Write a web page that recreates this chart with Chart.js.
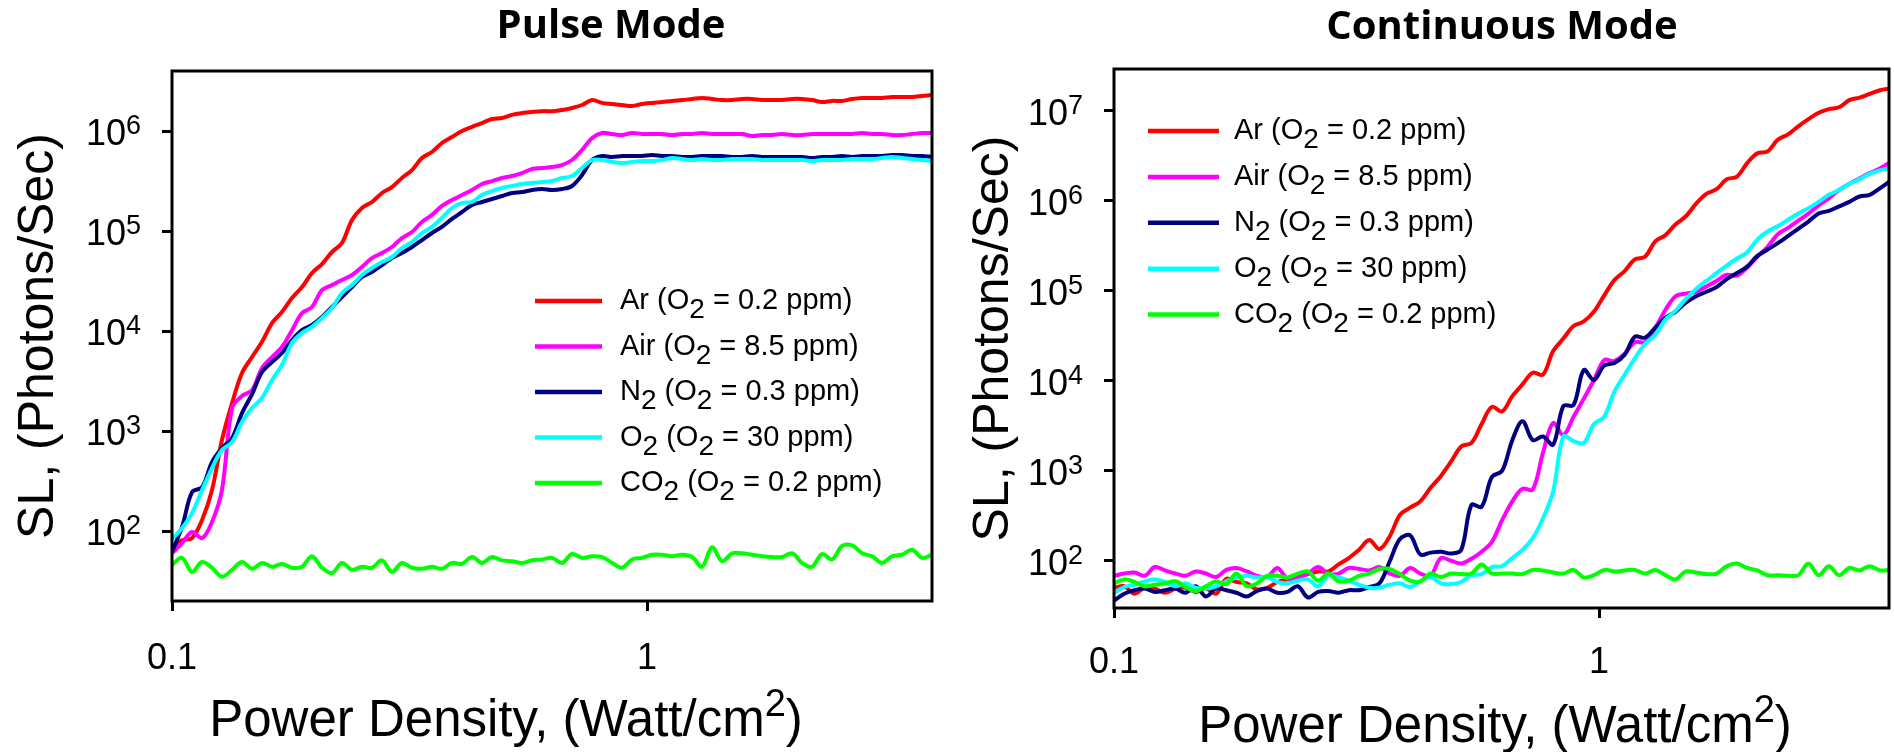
<!DOCTYPE html>
<html>
<head>
<meta charset="utf-8">
<title>SL vs power density</title>
<script src="https://cdn.jsdelivr.net/npm/chart.js@4.4.1/dist/chart.umd.min.js"></script>
<style>
  html, body { margin: 0; padding: 0; background: #fff; }
  #wrap { position: relative; width: 1894px; height: 752px; overflow: hidden; background: #fff; }
  .panel { position: absolute; top: 0; width: 947px; height: 752px; }
</style>
</head>
<body>
<div id="wrap">
  <div class="panel" style="left:0"><canvas id="pulseChart" width="947" height="752"></canvas></div>
  <div class="panel" style="left:947px"><canvas id="contChart" width="947" height="752"></canvas></div>
</div>
<script>
const powerDensity = [
  0.1, 0.105, 0.1102, 0.1157, 0.1214, 0.1274, 0.1338, 0.1404, 0.1474, 0.1547,
  0.1624, 0.1704, 0.1789, 0.1878, 0.1971, 0.2069, 0.2172, 0.2279, 0.2393, 0.2511,
  0.2636, 0.2767, 0.2904, 0.3048, 0.32, 0.3359, 0.3526, 0.3701, 0.3885, 0.4078,
  0.4281, 0.4494, 0.4717, 0.4952, 0.5198, 0.5456, 0.5727, 0.6012, 0.6311, 0.6624,
  0.6952, 0.7298, 0.7661, 0.8041, 0.8441, 0.8859, 0.93, 0.9762, 1.0247, 1.0756,
  1.129, 1.185, 1.2439, 1.3057, 1.3706, 1.4385, 1.51, 1.585, 1.6638, 1.7465,
  1.833, 1.924, 2.0197, 2.12, 2.2254, 2.3357, 2.452, 2.5738, 2.7017, 2.8358,
  2.9764, 3.1244, 3.2795, 3.4425, 3.6134, 3.7926, 3.9813
];

// legend labels: _2 = subscript
const seriesLabels = ['Ar (O_2 = 0.2 ppm)', 'Air (O_2 = 8.5 ppm)', 'N_2 (O_2 = 0.3 ppm)', 'O_2 (O_2 = 30 ppm)', 'CO_2 (O_2 = 0.2 ppm)'];
const seriesColors = ['#ff0000', '#ff00ff', '#000080', '#00ffff', '#00ff00'];

// Pulse mode, SL (photons/sec)
const pulseAr = [
  69, 81, 85, 129, 257, 813, 1.9e3, 3.8e3, 5.5e3, 7.8e3,
  1.2e4, 1.55e4, 2.14e4, 2.75e4, 3.8e4, 4.68e4, 6.17e4, 7.59e4, 1.29e5, 1.7e5,
  1.95e5, 2.4e5, 2.75e5, 3.39e5, 4.07e5, 5.37e5, 6.17e5, 7.59e5, 8.71e5, 1.0e6,
  1.1e6, 1.2e6, 1.32e6, 1.35e6, 1.45e6, 1.51e6, 1.55e6, 1.58e6, 1.58e6, 1.62e6,
  1.7e6, 1.82e6, 2.04e6, 1.91e6, 1.86e6, 1.82e6, 1.78e6, 1.86e6, 1.91e6, 1.95e6,
  2.0e6, 2.04e6, 2.09e6, 2.14e6, 2.09e6, 2.04e6, 2.04e6, 2.09e6, 2.09e6, 2.04e6,
  2.04e6, 2.04e6, 2.09e6, 2.09e6, 2.04e6, 1.95e6, 2.0e6, 2.0e6, 2.09e6, 2.14e6,
  2.14e6, 2.14e6, 2.19e6, 2.19e6, 2.19e6, 2.24e6, 2.29e6
];
const pulseAir = [
  60, 76, 98, 85, 123, 257, 1.7e3, 2.24e3, 2.57e3, 4.27e3,
  5.5e3, 6.92e3, 1.02e4, 1.51e4, 1.74e4, 2.57e4, 2.88e4, 3.24e4, 3.63e4, 4.37e4,
  5.37e4, 6.03e4, 6.92e4, 8.51e4, 9.77e4, 1.23e5, 1.45e5, 1.78e5, 2.04e5, 2.29e5,
  2.57e5, 2.95e5, 3.16e5, 3.39e5, 3.55e5, 3.8e5, 4.17e5, 4.27e5, 4.37e5, 4.57e5,
  5.13e5, 6.46e5, 8.51e5, 9.55e5, 9.33e5, 9.12e5, 9.55e5, 9.33e5, 9.33e5, 9.33e5,
  9.12e5, 9.33e5, 9.33e5, 9.55e5, 9.33e5, 9.33e5, 9.33e5, 9.33e5, 8.91e5, 9.12e5,
  9.12e5, 9.33e5, 9.12e5, 9.12e5, 9.33e5, 9.33e5, 9.33e5, 9.33e5, 9.33e5, 9.55e5,
  9.33e5, 9.33e5, 9.12e5, 9.12e5, 9.33e5, 9.55e5, 9.55e5
];
const pulseN2 = [
  62, 110, 245, 275, 490, 676, 851, 1.51e3, 2.34e3, 3.89e3,
  4.9e3, 6.03e3, 8.13e3, 1.02e4, 1.15e4, 1.38e4, 1.74e4, 2.19e4, 2.75e4, 3.47e4,
  3.89e4, 4.57e4, 5.37e4, 6.03e4, 6.92e4, 8.13e4, 9.55e4, 1.1e5, 1.32e5, 1.55e5,
  1.82e5, 1.95e5, 2.09e5, 2.24e5, 2.4e5, 2.45e5, 2.57e5, 2.63e5, 2.57e5, 2.63e5,
  2.82e5, 3.63e5, 5.13e5, 5.62e5, 5.5e5, 5.62e5, 5.62e5, 5.62e5, 5.75e5, 5.62e5,
  5.62e5, 5.5e5, 5.5e5, 5.62e5, 5.62e5, 5.62e5, 5.5e5, 5.5e5, 5.62e5, 5.5e5,
  5.5e5, 5.5e5, 5.5e5, 5.5e5, 5.37e5, 5.5e5, 5.5e5, 5.62e5, 5.5e5, 5.62e5,
  5.62e5, 5.62e5, 5.75e5, 5.75e5, 5.62e5, 5.62e5, 5.5e5
];
const pulseO2 = [
  83, 107, 151, 257, 427, 646, 776, 1.23e3, 1.7e3, 2.14e3,
  3.24e3, 4.57e3, 7.59e3, 9.55e3, 1.1e4, 1.35e4, 1.7e4, 2.4e4, 2.88e4, 3.63e4,
  4.27e4, 4.9e4, 5.5e4, 6.76e4, 7.76e4, 9.55e4, 1.1e5, 1.35e5, 1.7e5, 1.91e5,
  1.95e5, 2.29e5, 2.51e5, 2.69e5, 2.82e5, 2.95e5, 3.02e5, 3.09e5, 3.16e5, 3.39e5,
  3.55e5, 4.27e5, 5.13e5, 5.13e5, 4.9e5, 4.79e5, 4.9e5, 5.01e5, 5.01e5, 5.13e5,
  5.37e5, 5.25e5, 5.13e5, 5.25e5, 5.13e5, 5.13e5, 5.25e5, 5.25e5, 5.25e5, 5.13e5,
  5.13e5, 5.13e5, 5.13e5, 5.13e5, 5.01e5, 5.13e5, 5.13e5, 5.13e5, 5.25e5, 5.25e5,
  5.25e5, 5.37e5, 5.5e5, 5.37e5, 5.25e5, 5.13e5, 5.01e5
];
const pulseCO2 = [
  46, 54, 39, 49, 43, 35, 41, 49, 42, 48,
  44, 47, 43, 44, 56, 43, 38, 48, 41, 44,
  43, 51, 39, 48, 43, 42, 44, 42, 48, 47,
  55, 48, 55, 51, 50, 48, 51, 52, 54, 48,
  59, 54, 56, 55, 48, 43, 52, 54, 58, 58,
  56, 58, 55, 44, 69, 50, 60, 60, 58, 56,
  55, 55, 60, 48, 44, 59, 52, 71, 72, 60,
  56, 48, 56, 58, 65, 54, 58
];

// Continuous mode, SL (photons/sec)
const contAr = [
  50, 52, 43, 50, 49, 44, 49, 50, 45, 49,
  43, 63, 58, 56, 48, 50, 58, 62, 65, 71,
  76, 76, 91, 107, 132, 170, 135, 186, 324, 389,
  457, 646, 871, 1.26e3, 1.86e3, 2.04e3, 3.31e3, 5.13e3, 4.57e3, 6.76e3,
  9.12e3, 1.23e4, 1.17e4, 2.14e4, 2.95e4, 4.07e4, 4.57e4, 5.89e4, 8.91e4, 1.32e5,
  1.66e5, 2.24e5, 2.4e5, 3.55e5, 4.17e5, 5.5e5, 6.76e5, 9.33e5, 1.2e6, 1.35e6,
  1.74e6, 1.86e6, 2.63e6, 3.39e6, 3.55e6, 4.79e6, 5.5e6, 6.76e6, 8.13e6, 9.55e6,
  1.05e7, 1.1e7, 1.32e7, 1.41e7, 1.55e7, 1.7e7, 1.78e7
];
const contAir = [
  68, 72, 74, 68, 85, 78, 72, 68, 76, 72,
  66, 79, 83, 76, 68, 66, 83, 63, 65, 72,
  85, 71, 72, 83, 81, 78, 85, 72, 68, 83,
  72, 68, 107, 100, 93, 105, 126, 162, 282, 457,
  631, 617, 1.58e3, 3.39e3, 2.51e3, 3.98e3, 6.31e3, 1.02e4, 1.7e4, 1.66e4,
  2.0e4, 2.69e4, 2.69e4, 3.89e4, 6.17e4, 8.71e4, 9.33e4, 9.77e4, 1.12e5, 1.29e5,
  1.51e5, 1.48e5, 1.82e5, 2.4e5, 3.09e5, 4.27e5, 5.01e5, 6.03e5, 7.24e5, 8.91e5,
  1.07e6, 1.32e6, 1.55e6, 1.78e6, 2.04e6, 2.29e6, 2.69e6
];
const contN2 = [
  36, 43, 47, 49, 45, 47, 49, 44, 52, 40,
  49, 47, 44, 40, 46, 49, 44, 45, 52, 39,
  45, 46, 44, 47, 47, 51, 56, 98, 174, 191,
  117, 123, 126, 120, 132, 417, 398, 851, 1.0e3, 2.19e3,
  3.55e3, 2.19e3, 2.4e3, 1.95e3, 5.25e3, 5.37e3, 1.32e4, 1.02e4, 1.48e4, 1.58e4,
  1.95e4, 3.09e4, 3.02e4, 3.89e4, 5.01e4, 5.89e4, 7.41e4, 8.71e4, 9.77e4, 1.1e5,
  1.35e5, 1.58e5, 1.86e5, 2.45e5, 2.88e5, 3.39e5, 4.07e5, 4.9e5, 5.89e5, 7.24e5,
  7.76e5, 8.71e5, 9.77e5, 1.12e6, 1.17e6, 1.38e6, 1.66e6
];
const contO2 = [
  44, 51, 54, 59, 62, 58, 52, 56, 50, 49,
  52, 59, 65, 68, 65, 66, 58, 56, 60, 62,
  52, 68, 65, 60, 54, 50, 50, 54, 56, 51,
  59, 66, 56, 55, 58, 69, 71, 85, 87, 107,
  132, 178, 295, 589, 2.4e3, 2.14e3, 2.04e3, 3.31e3, 3.98e3, 7.59e3,
  1.17e4, 1.78e4, 2.57e4, 3.24e4, 4.79e4, 6.03e4, 8.13e4, 1.05e5, 1.29e5, 1.58e5,
  1.91e5, 2.29e5, 2.69e5, 3.72e5, 4.57e5, 5.25e5, 6.17e5, 7.24e5, 8.32e5, 9.77e5,
  1.17e6, 1.32e6, 1.55e6, 1.74e6, 2.0e6, 2.19e6, 2.29e6
];
const contCO2 = [
  56, 62, 58, 52, 54, 56, 59, 51, 46, 52,
  59, 55, 72, 52, 56, 68, 68, 65, 72, 76,
  60, 72, 59, 60, 68, 72, 81, 81, 71, 60,
  59, 72, 66, 72, 71, 72, 91, 72, 72, 72,
  71, 79, 78, 74, 72, 79, 65, 69, 79, 76,
  78, 79, 72, 79, 69, 62, 76, 74, 71, 72,
  87, 93, 83, 78, 69, 69, 68, 69, 93, 69,
  87, 69, 83, 78, 87, 78, 79
];

// Axis ticks and their labels (^n = superscript)
const xTicks = [0.1, 1];
const xTickLabels = ['0.1', '1'];
const pulseYTicks = [1e2, 1e3, 1e4, 1e5, 1e6];
const pulseYLabels = ['10^2', '10^3', '10^4', '10^5', '10^6'];
const contYTicks = [1e2, 1e3, 1e4, 1e5, 1e6, 1e7];
const contYLabels = ['10^2', '10^3', '10^4', '10^5', '10^6', '10^7'];

const FONT = "'Liberation Sans', Arial, sans-serif";

// split "CO_2 (O_2 ...)" into runs of normal / sub / sup text
function parseRich(str) {
    const runs = [];
    const re = /([_^])(\d)/g;
    let last = 0, m;
    while ((m = re.exec(str)) !== null) {
        if (m.index > last) runs.push({ t: str.slice(last, m.index), k: 'n' });
        runs.push({ t: m[2], k: m[1] === '_' ? 'sub' : 'sup' });
        last = re.lastIndex;
    }
    if (last < str.length) runs.push({ t: str.slice(last), k: 'n' });
    return runs;
}

function drawRich(ctx, str, x, y, o) {
    const runs = parseRich(str);
    ctx.textAlign = 'left';
    ctx.textBaseline = 'alphabetic';
    let total = 0;
    runs.forEach(r => {
        ctx.font = (r.k === 'n' ? o.size : o.small) + 'px ' + FONT;
        r.w = ctx.measureText(r.t).width;
        total += r.w;
    });
    let cx = o.align === 'center' ? x - total / 2 : o.align === 'right' ? x - total : x;
    runs.forEach(r => {
        ctx.font = (r.k === 'n' ? o.size : o.small) + 'px ' + FONT;
        let dy = 0;
        if (r.k === 'sub') dy = o.subDy || 0;
        if (r.k === 'sup') dy = -(o.supDy || 0);
        ctx.fillText(r.t, cx, y + dy);
        cx += r.w;
    });
}

// frame, titles, tick labels and legend
const panelDecor = {
    id: 'panelDecor',
    afterDraw(chart, args, opts) {
        const ctx = chart.ctx;
        const area = chart.chartArea;
        const xs = chart.scales.x;
        const ys = chart.scales.y;
        ctx.save();
        ctx.fillStyle = '#000';
        ctx.strokeStyle = '#000';

        // plot frame
        ctx.lineWidth = 3;
        ctx.strokeRect(area.left, area.top, area.right - area.left, area.bottom - area.top);

        // panel title
        ctx.font = "bold 40px 'Open Sans', sans-serif";
        ctx.textAlign = 'center';
        ctx.textBaseline = 'alphabetic';
        ctx.fillText(opts.title, opts.titleX, opts.titleY);

        // y tick labels
        opts.yTicks.forEach((v, i) => {
            const py = ys.getPixelForValue(v);
            drawRich(ctx, opts.yLabels[i], area.left - 31, py + 14, { size: 36, small: 27, supDy: 11, align: 'right' });
        });
        // x tick labels
        xTicks.forEach((v, i) => {
            const px = xs.getPixelForValue(v);
            drawRich(ctx, xTickLabels[i], px, opts.xTickY, { size: 36, small: 27, align: 'center' });
        });

        // axis titles
        drawRich(ctx, 'Power Density, (Watt/cm^2)', opts.xTitleX, opts.xTitleY, { size: 51, small: 38, supDy: 20, align: 'center' });
        ctx.save();
        ctx.translate(opts.yTitleX, (area.top + area.bottom) / 2);
        ctx.rotate(-Math.PI / 2);
        drawRich(ctx, 'SL, (Photons/Sec)', 0, 0, { size: 50, small: 36, align: 'center' });
        ctx.restore();

        // legend
        chart.data.datasets.forEach((ds, i) => {
            const y = opts.legendY + i * opts.legendStep;
            ctx.strokeStyle = ds.borderColor;
            ctx.lineWidth = 4.5;
            ctx.beginPath();
            ctx.moveTo(opts.legendX0, y);
            ctx.lineTo(opts.legendX1, y);
            ctx.stroke();
            ctx.fillStyle = '#000';
            drawRich(ctx, ds.label, opts.legendTextX, y + 8, { size: 29, small: 28, subDy: 9, align: 'left' });
        });
        ctx.restore();
    }
};

function makeDatasets(seriesList) {
    return seriesList.map((values, i) => ({
        label: seriesLabels[i],
        data: powerDensity.map((x, j) => ({ x: x, y: values[j] })),
        borderColor: seriesColors[i],
        backgroundColor: seriesColors[i],
        borderWidth: 4,
        pointRadius: 0,
        tension: 0.35,
        fill: false,
        order: 5 - i
    }));
}

function makeChart(canvasId, seriesList, cfg) {
    const ctx = document.getElementById(canvasId).getContext('2d');
    return new Chart(ctx, {
        type: 'line',
        data: { datasets: makeDatasets(seriesList) },
        options: {
            responsive: false,
            animation: false,
            events: [],
            layout: { padding: { left: 0, right: cfg.padRight, top: cfg.padTop, bottom: 0 } },
            plugins: {
                legend: { display: false },
                tooltip: { enabled: false },
                title: { display: false },
                panelDecor: cfg.decor
            },
            scales: {
                x: {
                    type: 'logarithmic',
                    min: 0.1,
                    max: cfg.xMax,
                    afterBuildTicks: scale => { scale.ticks = xTicks.map(v => ({ value: v })); },
                    afterFit: scale => { scale.height = cfg.xAxisHeight; },
                    ticks: { display: false },
                    grid: { display: true, drawOnChartArea: false, drawTicks: true, tickLength: 10, tickWidth: 3, color: '#000' },
                    border: { display: false }
                },
                y: {
                    type: 'logarithmic',
                    min: cfg.yMin,
                    max: cfg.yMax,
                    afterBuildTicks: scale => { scale.ticks = cfg.decor.yTicks.map(v => ({ value: v })); },
                    afterFit: scale => { scale.width = cfg.yAxisWidth; },
                    ticks: { display: false },
                    grid: { display: true, drawOnChartArea: false, drawTicks: true, tickLength: 10, tickWidth: 3, color: '#000' },
                    border: { display: false }
                }
            }
        },
        plugins: [panelDecor]
    });
}

// Pulse mode panel
makeChart('pulseChart', [pulseAr, pulseAir, pulseN2, pulseO2, pulseCO2], {
    padRight: 15, padTop: 71, xAxisHeight: 151, yAxisWidth: 172,
    xMax: 3.98, yMin: 20, yMax: 3.98e6,
    decor: {
        title: 'Pulse Mode', titleX: 611, titleY: 38,
        yTicks: pulseYTicks, yLabels: pulseYLabels,
        xTickY: 669, xTitleX: 506, xTitleY: 736, yTitleX: 53,
        legendX0: 535, legendX1: 602, legendTextX: 620, legendY: 301, legendStep: 45.5
    }
});

// Continuous mode panel
makeChart('contChart', [contAr, contAir, contN2, contO2, contCO2], {
    padRight: 5, padTop: 69, xAxisHeight: 144, yAxisWidth: 167,
    xMax: 3.96, yMin: 29.8, yMax: 2.93e7,
    decor: {
        title: 'Continuous Mode', titleX: 555, titleY: 39,
        yTicks: contYTicks, yLabels: contYLabels,
        xTickY: 673, xTitleX: 548, xTitleY: 742, yTitleX: 61,
        legendX0: 201, legendX1: 272, legendTextX: 287, legendY: 131, legendStep: 45.9
    }
});
</script>
</body>
</html>
